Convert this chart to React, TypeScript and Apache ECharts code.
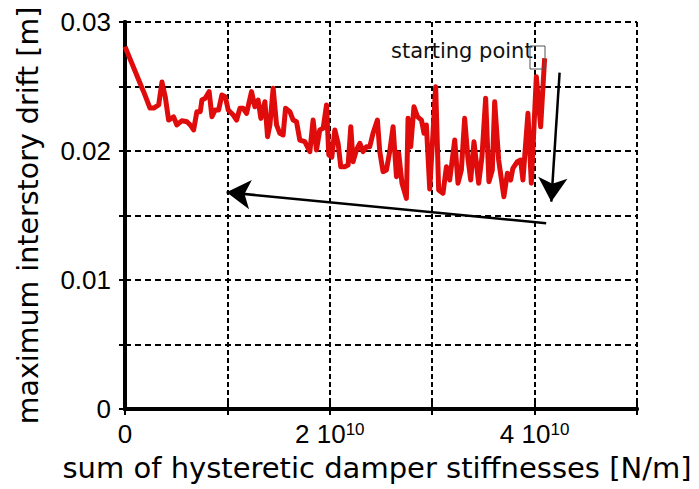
import React, { useEffect, useRef } from "react";
import * as echarts from "echarts";

// stiffness sum in units of 1e10 N/m
const stiffnessE10 = [
  0.000, 0.166, 0.182, 0.244, 0.280, 0.329, 0.361, 0.393, 0.426, 0.475,
  0.507, 0.556, 0.605, 0.637, 0.670, 0.702, 0.735, 0.751, 0.783, 0.822,
  0.849, 0.881, 0.914, 0.946, 0.979, 1.008, 1.057, 1.090, 1.122, 1.154,
  1.187, 1.236, 1.268, 1.300, 1.327, 1.366, 1.392, 1.415, 1.447, 1.480,
  1.512, 1.544, 1.568, 1.610, 1.642, 1.675, 1.707, 1.756, 1.805, 1.837,
  1.870, 1.902, 1.935, 1.968, 1.990, 2.020, 2.049, 2.081, 2.107, 2.146,
  2.179, 2.205, 2.227, 2.260, 2.293, 2.325, 2.358, 2.390, 2.422, 2.465,
  2.488, 2.520, 2.553, 2.585, 2.618, 2.651, 2.673, 2.705, 2.748, 2.764,
  2.790, 2.822, 2.856, 2.895, 2.920, 2.943, 2.976, 3.034, 3.063, 3.105,
  3.139, 3.171, 3.220, 3.252, 3.285, 3.317, 3.349, 3.376, 3.408, 3.454,
  3.486, 3.522, 3.554, 3.587, 3.610, 3.649, 3.700, 3.734, 3.766, 3.788,
  3.831, 3.863, 3.886, 3.935, 3.968, 4.017, 4.059, 4.098,
];

// maximum interstory drift [m]
const drift = [
  0.02809, 0.02488, 0.02460, 0.02333, 0.02333, 0.02357, 0.02535, 0.02421, 0.02240, 0.02264,
  0.02202, 0.02235, 0.02227, 0.02202, 0.02163, 0.02305, 0.02305, 0.02395, 0.02409, 0.02460,
  0.02266, 0.02318, 0.02318, 0.02434, 0.02421, 0.02318, 0.02279, 0.02240, 0.02331, 0.02331,
  0.02292, 0.02460, 0.02343, 0.02395, 0.02253, 0.02382, 0.02111, 0.02202, 0.02486, 0.02202,
  0.02137, 0.02124, 0.02331, 0.02305, 0.02240, 0.02227, 0.02085, 0.02072, 0.01995, 0.02240,
  0.02008, 0.02163, 0.02176, 0.02357, 0.01969, 0.01953, 0.02163, 0.02060, 0.01878, 0.01878,
  0.01891, 0.02188, 0.01917, 0.02008, 0.02060, 0.01995, 0.02033, 0.02033, 0.02137, 0.02240,
  0.01995, 0.01840, 0.01853, 0.01995, 0.02188, 0.01801, 0.01982, 0.01750, 0.01633, 0.02253,
  0.02033, 0.02343, 0.02266, 0.02240, 0.02137, 0.02202, 0.01705, 0.02498, 0.01698, 0.01672,
  0.01878, 0.01775, 0.02085, 0.01750, 0.01853, 0.02253, 0.01943, 0.01775, 0.02072, 0.01750,
  0.01956, 0.02409, 0.01762, 0.01853, 0.02382, 0.01930, 0.01646, 0.01827, 0.01775, 0.01866,
  0.01917, 0.01930, 0.01775, 0.02292, 0.01750, 0.02576, 0.02188, 0.02719,
];

const yTickLabels = ["0", "0.01", "0.02", "0.03"];
const xTickMantissas = [0, 2, 4];

// annotation arrows: [startX(1e10), startY, endX(1e10), endY]
const arrowDown = [4.244, 0.02607, 4.163, 0.01607];
const arrowLeft = [4.113, 0.0144, 0.992, 0.0168];

const annotationText = "starting point";

export default function App() {
  const ref = useRef<HTMLDivElement>(null);
  useEffect(() => {
    if (!ref.current) return;
    const chart = echarts.init(ref.current, undefined, { renderer: "svg" });
    const E = 1e10;
    const data = stiffnessE10.map((x, i) => [x * E, drift[i]]);
    const axisLineStyle = { color: "#000", width: 4 };
    const tickStyle = { show: true, inside: true, length: 6, lineStyle: { color: "#000", width: 2 } };
    const xBase = { type: "value", min: 0, max: 5 * E, interval: E };
    const yBase = { type: "value", min: 0, max: 0.03, interval: 0.005 };
    const arrowLine = (a: number[]) => [
      { coord: [a[0] * E, a[1]] },
      { coord: [a[2] * E, a[3]] },
    ];
    chart.setOption({
      animation: false,
      backgroundColor: "#fff",
      grid: {
        left: 125,
        right: 62,
        top: 22,
        bottom: 80,
        show: false,
        containLabel: false,
        outerBoundsMode: "none",
      },
      xAxis: [
        {
          ...xBase,
          position: "bottom",
          name: "sum of hysteretic damper stiffnesses [N/m]",
          nameLocation: "middle",
          nameGap: 44,
          nameTextStyle: {
            fontFamily: "DejaVu Sans",
            fontSize: 29,
            color: "#000",
            padding: [0, 8, 0, 0],
          },
          axisLine: { show: true, lineStyle: axisLineStyle },
          axisTick: tickStyle,
          splitLine: { show: true, lineStyle: { color: "#000", width: 2, type: [5, 3] } },
          axisLabel: {
            margin: 12,
            fontFamily: "Liberation Sans",
            fontSize: 26,
            color: "#000",
            formatter: (v: number) => {
              const k = Math.round(v / E);
              if (!xTickMantissas.includes(k)) return "";
              if (k === 0) return "0";
              return `{m|${k} 10}{s|10}`;
            },
            rich: {
              m: { fontFamily: "Liberation Sans", fontSize: 26, color: "#000" },
              s: { fontFamily: "Liberation Sans", fontSize: 17, color: "#000", verticalAlign: "top" },
            },
          },
        },
        {
          ...xBase,
          position: "top",
          axisLine: { show: true, lineStyle: axisLineStyle },
          axisTick: tickStyle,
          axisLabel: { show: false },
          splitLine: { show: false },
        },
      ],
      yAxis: [
        {
          ...yBase,
          position: "left",
          name: "maximum interstory drift [m]",
          nameLocation: "middle",
          nameGap: 82,
          nameTextStyle: { fontFamily: "DejaVu Sans", fontSize: 28.5, color: "#000" },
          axisLine: { show: true, lineStyle: axisLineStyle },
          axisTick: tickStyle,
          splitLine: { show: true, lineStyle: { color: "#000", width: 2, type: [6, 4] } },
          axisLabel: {
            margin: 14,
            fontFamily: "Liberation Sans",
            fontSize: 26,
            color: "#000",
            formatter: (v: number) => {
              const k = Math.round(v / 0.01);
              if (Math.abs(v - k * 0.01) > 1e-9) return "";
              return yTickLabels[k] ?? "";
            },
          },
        },
        {
          ...yBase,
          position: "right",
          axisLine: { show: true, lineStyle: axisLineStyle },
          axisTick: tickStyle,
          axisLabel: { show: false },
          splitLine: { show: false },
        },
      ],
      series: [
        {
          type: "line",
          data,
          showSymbol: false,
          symbol: "none",
          lineStyle: { color: "#e00c0c", width: 5, join: "round" },
          z: 5,
          markLine: {
            silent: true,
            symbol: ["none", "arrow"],
            symbolSize: [22, 24],
            label: { show: false },
            lineStyle: { color: "#000", width: 2.5, type: "solid" },
            data: [arrowLine(arrowDown), arrowLine(arrowLeft)],
          },
        },
      ],
      graphic: [
        {
          type: "text",
          left: 391,
          top: 40,
          style: { text: annotationText, fontFamily: "DejaVu Sans", fontSize: 21, fill: "#111" },
          z: 10,
        },
        {
          type: "rect",
          shape: { x: 530, y: 46, width: 15, height: 23 },
          style: { fill: "none", stroke: "#555", lineWidth: 1 },
          z: 10,
        },
      ],
    });
    return () => chart.dispose();
  }, []);
  return (
    <div
      ref={ref}
      style={{ position: "absolute", left: 0, top: 0, width: 699, height: 489 }}
    />
  );
}
